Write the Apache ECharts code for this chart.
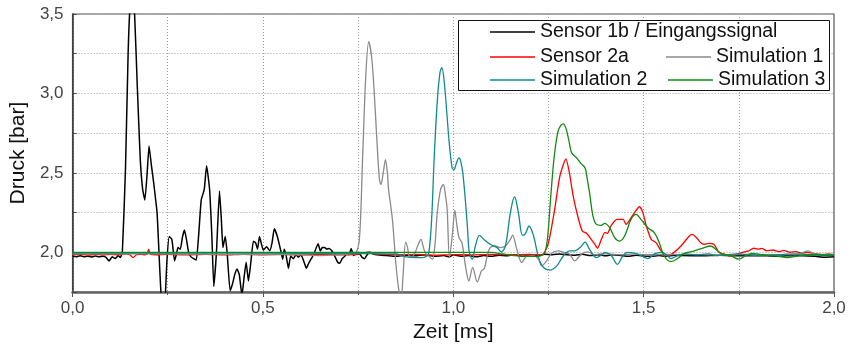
<!DOCTYPE html>
<html>
<head>
<meta charset="utf-8">
<script src="https://cdn.jsdelivr.net/npm/echarts@6/dist/echarts.min.js"></script>
<style>
  html, body { margin: 0; padding: 0; background: #fff; }
  #chart { width: 851px; height: 348px; }
</style>
</head>
<body>
<div id="chart"></div>
<script>
// Pressure traces: [time in ms, pressure in bar]
const sensor1b = [
  [0,1.975],[0.01,1.972],[0.02,1.978],[0.03,1.973],[0.04,1.976],[0.05,1.971],[0.06,1.977],[0.07,1.972],
  [0.08,1.975],[0.088,1.968],[0.096,1.946],[0.104,1.972],[0.112,1.962],[0.12,1.978],[0.126,1.968],
  [0.131,2.01],[0.139,2.52],[0.146,3.25],[0.151,3.55],[0.157,3.66],[0.163,3.5],[0.170,3.05],[0.178,2.58],
  [0.184,2.40],[0.190,2.33],[0.196,2.50],[0.201,2.67],[0.207,2.55],[0.213,2.44],[0.222,2.25],[0.229,1.9],
  [0.236,1.62],[0.242,1.65],[0.248,1.95],[0.254,2.10],[0.261,2.08],[0.268,1.946],[0.273,1.99],[0.277,2.03],
  [0.283,2.02],[0.289,2.10],[0.294,2.14],[0.300,2.07],[0.305,2.0],[0.310,1.975],[0.318,1.96],[0.325,1.952],
  [0.331,2.10],[0.338,2.33],[0.346,2.396],[0.352,2.545],[0.360,2.396],[0.366,2.1],[0.371,1.786],[0.378,2.0],
  [0.386,2.386],[0.391,2.2],[0.395,2.03],[0.401,2.10],[0.406,2.0],[0.414,1.758],[0.420,1.80],[0.426,1.86],
  [0.432,1.896],[0.438,1.86],[0.445,1.73],[0.451,1.85],[0.456,1.938],[0.462,1.82],[0.468,1.93],[0.475,2.07],
  [0.481,2.06],[0.486,2.02],[0.491,2.10],[0.501,2.015],[0.510,2.036],[0.518,2.01],[0.524,2.06],[0.530,2.149],
  [0.538,2.10],[0.547,2.01],[0.552,1.957],[0.556,2.02],[0.561,1.98],[0.567,1.90],[0.573,1.977],[0.580,1.96],
  [0.587,1.985],[0.593,1.97],[0.600,1.985],[0.608,1.94],[0.614,1.90],[0.620,1.93],[0.627,1.96],[0.634,1.99],
  [0.645,2.055],[0.651,2.009],[0.656,2.03],[0.662,2.03],[0.668,2.02],[0.674,2.025],[0.681,2.01],[0.688,1.98],
  [0.697,1.936],[0.702,1.932],[0.708,1.96],[0.715,1.975],[0.720,1.99],[0.726,1.985],[0.732,2.024],[0.738,1.98],
  [0.745,1.99],[0.754,1.99],[0.760,1.97],[0.767,1.96],[0.774,1.985],[0.780,2.0],[0.790,1.99],[0.80,1.985],
  [0.825,1.98],[0.85,1.975],[0.875,1.982],[0.90,1.978],[0.925,1.985],[0.95,1.975],[0.975,1.98],[0.99,1.972],
  [1.0,1.985],[1.02,1.975],[1.04,1.98],[1.06,1.972],[1.08,1.98],[1.10,1.975],[1.12,1.982],[1.14,1.978],
  [1.16,1.985],[1.18,1.975],[1.20,1.98],[1.22,1.978],[1.24,1.988],[1.26,1.985],[1.28,1.99],[1.30,1.985],
  [1.32,1.982],[1.34,1.988],[1.36,1.98],[1.38,1.985],[1.40,1.978],[1.42,1.985],[1.44,1.98],[1.46,1.975],
  [1.48,1.982],[1.50,1.978],[1.52,1.975],[1.54,1.98],[1.56,1.975],[1.58,1.982],[1.60,1.98],[1.65,1.978],
  [1.70,1.982],[1.75,1.978],[1.80,1.98],[1.85,1.976],[1.90,1.98],[1.95,1.975],[1.975,1.97],[2.0,1.972]
];

const sensor2a = [
  [0,1.985],[0.02,1.988],[0.04,1.983],[0.06,1.987],[0.08,1.984],[0.10,1.988],[0.12,1.985],[0.14,1.99],
  [0.15,1.985],[0.159,1.967],[0.168,1.985],[0.18,1.988],[0.19,1.985],[0.196,1.99],[0.200,2.02],[0.204,1.99],
  [0.22,1.985],[0.25,1.988],[0.30,1.984],[0.35,1.987],[0.40,1.984],[0.45,1.988],[0.50,1.985],[0.55,1.987],
  [0.60,1.984],[0.65,1.987],[0.70,1.985],[0.75,1.988],[0.78,2.003],[0.79,1.99],[0.85,1.985],[0.90,1.987],
  [0.95,1.983],[1.00,1.986],[1.05,1.984],[1.10,1.987],[1.15,1.985],[1.20,1.987],[1.22,1.985],[1.237,1.99],
  [1.25,2.06],[1.265,2.25],[1.28,2.48],[1.296,2.588],[1.305,2.5],[1.315,2.354],[1.328,2.218],[1.339,2.134],
  [1.35,2.12],[1.363,2.08],[1.372,2.05],[1.379,2.026],[1.389,2.082],[1.398,2.124],[1.405,2.12],[1.415,2.17],
  [1.430,2.208],[1.446,2.208],[1.454,2.176],[1.465,2.21],[1.476,2.25],[1.489,2.287],[1.498,2.25],[1.507,2.166],
  [1.520,2.082],[1.533,2.06],[1.546,2.009],[1.563,1.977],[1.580,2.0],[1.598,2.04],[1.620,2.103],[1.628,2.113],
  [1.640,2.09],[1.650,2.06],[1.659,2.051],[1.672,2.057],[1.685,2.05],[1.698,2.0],[1.711,1.99],[1.724,1.977],
  [1.740,1.985],[1.759,2.0],[1.776,2.009],[1.789,2.026],[1.80,2.02],[1.81,2.025],[1.824,2.01],[1.84,2.015],
  [1.855,2.005],[1.868,2.012],[1.885,2.0],[1.90,2.005],[1.915,1.995],[1.929,2.0],[1.942,1.995],[1.955,1.99],
  [1.97,1.985],[1.985,1.99],[2.0,1.985]
];

const simulation1 = [
  [0,1.99],[0.2,1.99],[0.4,1.988],[0.6,1.985],[0.65,1.98],[0.70,1.985],[0.73,1.99],[0.745,2.0],[0.754,2.1],
  [0.762,2.6],[0.770,3.1],[0.778,3.326],[0.786,3.22],[0.793,2.981],[0.800,2.68],[0.806,2.46],[0.810,2.427],
  [0.816,2.5],[0.822,2.584],[0.827,2.5],[0.830,2.396],[0.836,2.29],[0.841,2.187],[0.849,1.936],[0.856,1.78],
  [0.863,1.70],[0.868,1.85],[0.875,2.065],[0.880,2.03],[0.884,1.977],[0.892,1.975],[0.900,2.0],[0.908,2.05],
  [0.915,2.082],[0.923,2.019],[0.930,1.985],[0.936,1.975],[0.945,1.957],[0.952,2.05],[0.958,2.25],[0.967,2.40],
  [0.974,2.427],[0.980,2.35],[0.984,2.27],[0.990,1.967],[0.998,2.12],[1.004,2.266],[1.009,2.18],[1.015,2.093],
  [1.023,2.06],[1.032,1.915],[1.041,1.82],[1.051,1.905],[1.063,1.814],[1.074,1.883],[1.082,1.90],[1.089,1.977],
  [1.097,2.03],[1.110,2.04],[1.124,2.03],[1.137,2.04],[1.150,2.082],[1.156,2.109],[1.167,2.019],[1.180,1.936],
  [1.193,1.977],[1.21,1.98],[1.224,1.957],[1.232,1.915],[1.245,1.946],[1.258,1.994],[1.276,2.009],[1.29,2.0],
  [1.305,1.99],[1.319,1.946],[1.337,1.99],[1.354,2.003],[1.37,1.985],[1.385,1.99],[1.406,1.99],[1.44,1.985],
  [1.476,1.99],[1.5,1.985],[1.6,1.988],[1.7,1.984],[1.8,1.987],[1.9,1.985],[1.932,2.009],[1.95,1.99],[2.0,1.985]
];

const simulation2 = [
  [0,1.995],[0.3,1.995],[0.6,1.994],[0.85,1.99],[0.87,1.975],[0.90,1.967],[0.92,1.967],[0.930,1.975],
  [0.936,2.0],[0.943,2.2],[0.950,2.6],[0.958,2.95],[0.965,3.13],[0.970,3.163],[0.976,3.08],[0.984,2.85],
  [0.989,2.70],[0.997,2.532],[1.002,2.52],[1.008,2.56],[1.015,2.595],[1.020,2.57],[1.025,2.50],[1.031,2.35],
  [1.037,2.166],[1.041,2.02],[1.045,1.977],[1.050,1.957],[1.058,2.04],[1.069,2.107],[1.080,2.082],[1.097,2.051],
  [1.115,2.03],[1.126,2.003],[1.137,2.04],[1.150,2.25],[1.161,2.35],[1.171,2.25],[1.182,2.107],[1.190,2.12],
  [1.199,2.166],[1.211,2.103],[1.224,1.967],[1.237,1.905],[1.254,1.888],[1.272,1.915],[1.289,1.977],[1.306,2.009],
  [1.32,2.01],[1.337,2.04],[1.346,2.065],[1.358,2.019],[1.376,1.967],[1.39,1.985],[1.398,2.0],[1.415,1.98],
  [1.431,1.925],[1.446,1.98],[1.458,2.0],[1.475,1.995],[1.493,1.98],[1.511,1.961],[1.528,1.99],[1.545,2.0],
  [1.56,1.985],[1.572,1.961],[1.589,1.98],[1.61,1.99],[1.64,1.985],[1.67,1.99],[1.694,1.98],[1.72,1.985],
  [1.75,1.99],[1.8,1.98],[1.85,1.985],[1.9,1.99],[1.95,1.985],[2.0,1.985]
];

const simulation3 = [
  [0,2.0],[0.5,2.0],[1.0,2.0],[1.1,2.0],[1.13,1.99],[1.16,1.98],[1.20,1.975],[1.225,1.975],[1.235,1.985],
  [1.241,2.0],[1.248,2.1],[1.256,2.35],[1.265,2.6],[1.275,2.76],[1.283,2.80],[1.289,2.808],[1.296,2.78],
  [1.304,2.70],[1.311,2.626],[1.324,2.595],[1.335,2.56],[1.346,2.532],[1.352,2.46],[1.358,2.375],[1.367,2.228],
  [1.376,2.176],[1.388,2.17],[1.398,2.183],[1.411,2.155],[1.424,2.093],[1.437,2.071],[1.450,2.103],[1.467,2.208],
  [1.480,2.239],[1.493,2.208],[1.511,2.155],[1.528,2.124],[1.541,2.061],[1.554,1.977],[1.572,1.942],[1.589,1.961],
  [1.607,1.994],[1.633,2.009],[1.659,2.03],[1.676,2.04],[1.694,2.01],[1.707,1.988],[1.728,1.98],[1.750,1.957],
  [1.768,1.98],[1.785,1.994],[1.81,1.985],[1.833,1.98],[1.855,1.975],[1.876,1.967],[1.90,1.975],[1.92,1.982],
  [1.946,1.985],[1.97,1.982],[2.0,1.98]
];

const seriesNames = ['Sensor 1b / Eingangssignal', 'Sensor 2a', 'Simulation 1', 'Simulation 2', 'Simulation 3'];
const seriesData = [sensor1b, sensor2a, simulation1, simulation2, simulation3];
const seriesColors = ['#000000', '#ff0000', '#8a8a8a', '#108a8c', '#128a12'];
const seriesSmooth = [0.15, 0.2, 0.3, 0.35, 0.35];
const seriesWidths = [1.5, 1.3, 1.3, 1.3, 1.3];

const xTicks = { min: 0, max: 2, step: 0.5 };
const yTicks = { min: 1.75, max: 3.5, step: 0.25 };

const FONT = 'Liberation Sans';
const comma = v => v.toFixed(1).replace('.', ',');
const gridDots = { color: '#9a9a9a', type: [1, 2], width: 1 };

// legend slots: [series index, left, top]
const legendSlots = [[0, 490, 22], [1, 490, 47], [2, 666, 47], [3, 490, 70], [4, 668, 70]];

const chart = echarts.init(document.getElementById('chart'), null, { renderer: 'canvas' });

chart.setOption({
  animation: false,
  backgroundColor: '#ffffff',
  grid: { left: 68, right: 17, top: 14, bottom: 55, show: true, borderColor: '#555', borderWidth: 1.2, backgroundColor: 'transparent' },
  xAxis: {
    type: 'value', min: xTicks.min, max: xTicks.max, interval: xTicks.step,
    name: 'Zeit [ms]', nameLocation: 'middle', nameGap: 24,
    nameTextStyle: { fontFamily: FONT, fontSize: 21, color: '#111' },
    axisLine: { show: true, lineStyle: { color: '#666', width: 2.5 } },
    axisTick: { show: true, inside: false, length: 5, lineStyle: { color: '#555', width: 1 } },
    minorTick: { show: true, splitNumber: 2, length: 3, lineStyle: { color: '#555', width: 1 } },
    axisLabel: { fontFamily: FONT, fontSize: 17, color: '#444', margin: 8, formatter: v => comma(v) },
    splitLine: { show: true, lineStyle: gridDots },
    minorSplitLine: { show: true, lineStyle: gridDots }
  },
  yAxis: {
    type: 'value', min: yTicks.min, max: yTicks.max, interval: yTicks.step,
    name: 'Druck [bar]', nameLocation: 'middle', nameGap: 42,
    nameTextStyle: { fontFamily: FONT, fontSize: 21, color: '#111' },
    axisLine: { show: true, lineStyle: { color: '#333', width: 1.5 } },
    axisTick: { show: true, inside: true, length: 4, lineStyle: { color: '#444', width: 1 } },
    axisLabel: {
      fontFamily: FONT, fontSize: 17, color: '#444', margin: 9,
      formatter: v => (Math.abs(v * 2 - Math.round(v * 2)) < 1e-6 ? comma(v) : '')
    },
    splitLine: { show: true, lineStyle: gridDots }
  },
  legend: legendSlots.map(([i, left, top]) => ({
    data: [seriesNames[i]],
    left: left, top: top, padding: 0, orient: 'horizontal',
    icon: 'rect', itemWidth: 45, itemHeight: 1.4,
    selectedMode: false, z: 10,
    textStyle: { fontFamily: FONT, fontSize: 19.5, color: '#111', padding: [0, 0, 0, 0] }
  })),
  graphic: [{
    type: 'rect', z: 5,
    shape: { x: 458.5, y: 20.5, width: 371, height: 70 },
    style: { fill: '#fff', stroke: '#111', lineWidth: 1 }
  }],
  series: seriesData.map((d, i) => ({
    name: seriesNames[i],
    type: 'line',
    data: d,
    showSymbol: false,
    symbol: 'none',
    smooth: seriesSmooth[i],
    clip: true,
    color: seriesColors[i],
    lineStyle: { color: seriesColors[i], width: seriesWidths[i] },
    itemStyle: { color: seriesColors[i] },
    z: 2 + i * 0.01
  }))
});
</script>
</body>
</html>
